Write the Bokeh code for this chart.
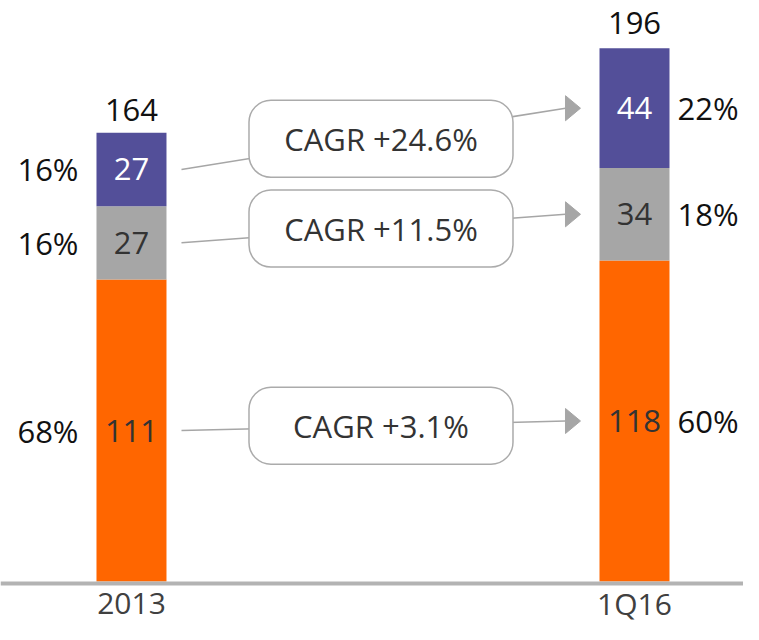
from bokeh.plotting import figure
from bokeh.models import ColumnDataSource, Range1d, Span
from bokeh.core.properties import value
from bokeh.embed import file_html
from bokeh.resources import INLINE

# ---- data ----
categories = ["2013", "1Q16"]
x_pos = [0, 1]
orange_vals = [111, 118]
grey_vals = [27, 34]
purple_vals = [27, 44]
totals = [164, 196]
orange_share = ["68%", "60%"]
grey_share = ["16%", "18%"]
purple_share = ["16%", "22%"]
cagr_labels = ["CAGR +3.1%", "CAGR +11.5%", "CAGR +24.6%"]  # orange, grey, purple

# ---- styles ----
ORANGE = "#FF6600"
GREY = "#A6A6A6"
PURPLE = "#534F99"
FONT = value("Open Sans")
FS = "31px"

W, H = 743, 624
xs0, xs1 = -0.2604, 1.2167
ys0, ys1 = -15.81, 213.6
ppx = W / (xs1 - xs0)
ppy = H / (ys1 - ys0)
bw = 70 / ppx

p = figure(width=W, height=H, x_range=Range1d(xs0, xs1), y_range=Range1d(ys0, ys1),
           output_backend="svg", toolbar_location=None, min_border=0,
           x_axis_location=None, y_axis_location=None)
p.grid.visible = False
p.outline_line_color = None

src = ColumnDataSource(dict(x=x_pos, orange=orange_vals, grey=grey_vals, purple=purple_vals))
p.vbar_stack(["orange", "grey", "purple"], x="x", width=bw, source=src,
             fill_color=[ORANGE, GREY, PURPLE], line_color=None)

base = Span(location=-2 / ppy, dimension="width", line_color="#B3B3B3", line_width=4)
p.add_layout(base)

mid_o = [o / 2 for o in orange_vals]
mid_g = [o + g / 2 for o, g in zip(orange_vals, grey_vals)]
mid_p = [o + g + q / 2 for o, g, q in zip(orange_vals, grey_vals, purple_vals)]
mids = [mid_o, mid_g, mid_p]

# connectors, arrows, CAGR boxes
xl = 0 + bw / 2 + 15 / ppx
x_tip = 1 - bw / 2 - 19 / ppx
x_base = x_tip - 15 / ppx
for i in range(3):
    yl, yr = mids[i][0], mids[i][1]
    p.segment(x0=[xl], y0=[yl], x1=[x_base], y1=[yr], line_color=GREY, line_width=1.5)
    p.patch(x=[x_base, x_tip, x_base], y=[yr + 12.5 / ppy, yr, yr - 12.5 / ppy],
            fill_color=GREY, line_color=GREY)
    cx = (xl + x_tip) / 2
    cy = (yl + yr) / 2
    kw = dict(x=[cx], y=[cy], width=264, height=77, width_units="screen", height_units="screen",
              fill_color="white", line_color="#ABABAB", line_width=1.5)
    try:
        p.rect(border_radius=22, **kw)
    except Exception:
        p.rect(**kw)
    p.text(x=[cx], y=[cy], text=[cagr_labels[i]], text_align="center", text_baseline="middle",
           text_font=FONT, text_font_size=FS, text_color="#333333")

# segment values
for vals, mid, col in [(orange_vals, mid_o, "#333333"), (grey_vals, mid_g, "#333333"),
                       (purple_vals, mid_p, "white")]:
    p.text(x=x_pos, y=mid, text=[str(v) for v in vals], text_align="center",
           text_baseline="middle", text_font=FONT, text_font_size=FS, text_color=col)

# share labels
p.text(x=[x_pos[0]] * 3, y=[mid_o[0], mid_g[0], mid_p[0]],
       text=[orange_share[0], grey_share[0], purple_share[0]], text_align="right",
       text_baseline="middle", x_offset=-(35 + 18), text_font=FONT, text_font_size=FS,
       text_color="#111111")
p.text(x=[x_pos[1]] * 3, y=[mid_o[1], mid_g[1], mid_p[1]],
       text=[orange_share[1], grey_share[1], purple_share[1]], text_align="left",
       text_baseline="middle", x_offset=35 + 8, text_font=FONT, text_font_size=FS,
       text_color="#111111")

# totals
p.text(x=x_pos, y=totals, text=[str(t) for t in totals], text_align="center",
       text_baseline="middle", y_offset=-25, text_font=FONT, text_font_size=FS,
       text_color="#111111")

# category labels
p.text(x=x_pos, y=[0, 0], text=categories, text_align="center", text_baseline="middle",
       y_offset=22, text_font=FONT, text_font_size="30px", text_color="#404040")

open("out.html", "w").write(file_html(p, INLINE))
